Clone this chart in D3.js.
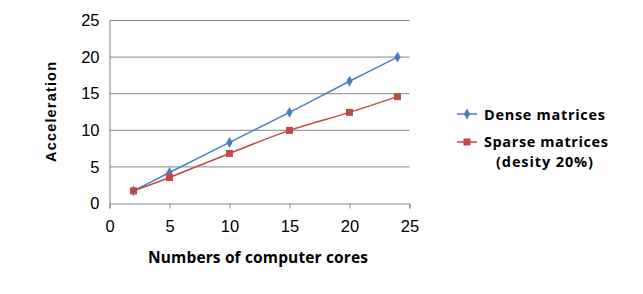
<!DOCTYPE html>
<html>
<head>
<meta charset="utf-8">
<script src="https://cdn.jsdelivr.net/npm/d3@7"></script>
<style>
  body { margin: 0; background: #fff; }
</style>
</head>
<body>
<div id="chart"></div>
<script>
// data
const cores = [2, 5, 10, 15, 20, 24];
const dense = [1.73, 4.24, 8.35, 12.45, 16.7, 20.0];
const sparse = [1.73, 3.56, 6.84, 9.99, 12.45, 14.6];
const seriesNames = ["Dense matrices", "Sparse matrices"];
const xTicks = [0, 5, 10, 15, 20, 25];
const yTicks = [0, 5, 10, 15, 20, 25];

const width = 643, height = 294;
const blue = "#4a7ebb", red = "#be4b48";

const svg = d3.select("#chart").append("svg")
  .attr("width", width)
  .attr("height", height);

const x = d3.scaleLinear().domain([0, 25]).range([109.5, 409.5]);
const y = d3.scaleLinear().domain([0, 25]).range([203.5, 20.5]);

// gridlines
svg.append("g")
  .selectAll("line")
  .data(yTicks.filter((d) => d > 0))
  .enter()
  .append("line")
  .attr("x1", x(0)).attr("x2", x(25))
  .attr("y1", (d) => y(d)).attr("y2", (d) => y(d))
  .attr("stroke", "#868686")
  .attr("stroke-width", 1);

// y axis
const yAxis = svg.append("g")
  .attr("transform", `translate(${x(0)},0)`)
  .call(d3.axisLeft(y).tickValues(yTicks).tickSize(0).tickPadding(10));
yAxis.select(".domain").attr("stroke", "#868686");

// x axis
const xAxis = svg.append("g")
  .attr("transform", `translate(0,${y(0)})`)
  .call(d3.axisBottom(x).tickValues(xTicks).tickSize(5).tickPadding(12));
xAxis.select(".domain").attr("stroke", "#868686");
xAxis.selectAll(".tick line").attr("stroke", "#868686");

svg.selectAll(".tick text")
  .attr("font-family", "Liberation Sans, Arial, sans-serif")
  .attr("font-size", 16.5)
  .attr("fill", "#000");

// axis titles
svg.append("text")
  .attr("x", 258).attr("y", 263)
  .attr("text-anchor", "middle")
  .attr("font-family", "Open Sans, sans-serif")
  .attr("font-weight", "bold")
  .attr("font-size", 15.5)
  .attr("textLength", 220)
  .text("Numbers of computer cores");

svg.append("text")
  .attr("transform", "translate(56,112) rotate(-90)")
  .attr("text-anchor", "middle")
  .attr("font-family", "Liberation Sans, Arial, sans-serif")
  .attr("font-weight", "bold")
  .attr("font-size", 14.5)
  .attr("textLength", 100)
  .text("Acceleration");

// lines
const line = d3.line()
  .x((d) => x(d[0]))
  .y((d) => y(d[1]))
  .curve(d3.curveCatmullRom.alpha(0.5));

const denseData = cores.map((c, i) => [c, dense[i]]);
const sparseData = cores.map((c, i) => [c, sparse[i]]);

svg.append("path")
  .datum(denseData)
  .attr("d", line)
  .attr("fill", "none")
  .attr("stroke", blue)
  .attr("stroke-width", 1.5);

svg.append("path")
  .datum(sparseData)
  .attr("d", line)
  .attr("fill", "none")
  .attr("stroke", red)
  .attr("stroke-width", 1.5);

// markers
const diamond = d3.symbol().type(d3.symbolDiamond).size(34);
svg.append("g")
  .selectAll("path")
  .data(denseData)
  .enter()
  .append("path")
  .attr("d", diamond)
  .attr("transform", (d) => `translate(${x(d[0])},${y(d[1])})`)
  .attr("fill", blue);

svg.append("g")
  .selectAll("rect")
  .data(sparseData)
  .enter()
  .append("rect")
  .attr("x", (d) => x(d[0]) - 3.5)
  .attr("y", (d) => y(d[1]) - 3.5)
  .attr("width", 7).attr("height", 7)
  .attr("fill", red);

// legend
const legend = svg.append("g").attr("font-family", "Open Sans, sans-serif")
  .attr("font-weight", "bold").attr("font-size", 14.5);

legend.append("line")
  .attr("x1", 457).attr("x2", 477).attr("y1", 114).attr("y2", 114)
  .attr("stroke", blue).attr("stroke-width", 1.5);
legend.append("path")
  .attr("d", diamond)
  .attr("transform", "translate(467,114)")
  .attr("fill", blue);
legend.append("text")
  .attr("x", 484).attr("y", 119.5)
  .attr("textLength", 121)
  .text(seriesNames[0]);

legend.append("line")
  .attr("x1", 457).attr("x2", 477).attr("y1", 142).attr("y2", 142)
  .attr("stroke", red).attr("stroke-width", 1.5);
legend.append("rect")
  .attr("x", 463.5).attr("y", 138.5).attr("width", 7).attr("height", 7)
  .attr("fill", red);
legend.append("text")
  .attr("x", 484).attr("y", 147)
  .attr("textLength", 124)
  .text(seriesNames[1]);
legend.append("text")
  .attr("x", 544.5).attr("y", 167)
  .attr("text-anchor", "middle")
  .attr("textLength", 97)
  .text("(desity 20%)");
</script>
</body>
</html>
